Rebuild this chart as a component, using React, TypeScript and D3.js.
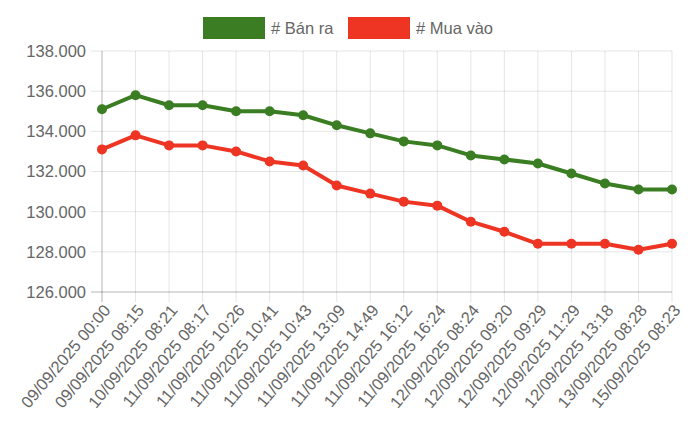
import React from "react";
import * as d3 from "d3";

const labels = [
  "09/09/2025 00:00", "09/09/2025 08:15", "10/09/2025 08:21", "11/09/2025 08:17",
  "11/09/2025 10:26", "11/09/2025 10:41", "11/09/2025 10:43", "11/09/2025 13:09",
  "11/09/2025 14:49", "11/09/2025 16:12", "11/09/2025 16:24", "12/09/2025 08:24",
  "12/09/2025 09:20", "12/09/2025 09:29", "12/09/2025 11:29", "12/09/2025 13:18",
  "13/09/2025 08:28", "15/09/2025 08:23",
];

const banRa = [
  135100, 135800, 135300, 135300, 135000, 135000, 134800, 134300, 133900,
  133500, 133300, 132800, 132600, 132400, 131900, 131400, 131100, 131100,
];

const muaVao = [
  133100, 133800, 133300, 133300, 133000, 132500, 132300, 131300, 130900,
  130500, 130300, 129500, 129000, 128400, 128400, 128400, 128100, 128400,
];

const yTicks = [126000, 128000, 130000, 132000, 134000, 136000, 138000];

const series = [
  { name: "# Bán ra", values: banRa, color: "#3a7d22" },
  { name: "# Mua vào", values: muaVao, color: "#ee3524" },
];

const W = 700;
const H = 431;
const left = 102;
const right = 672;
const top = 51;
const bottom = 292;
const font = "'Liberation Sans', Arial, Helvetica, sans-serif";
const fs = 16.5;

const fmt = d3
  .formatLocale({ decimal: ",", thousands: ".", grouping: [3], currency: ["", ""] })
  .format(",.0f");

export default function App() {
  const x = d3.scalePoint<string>().domain(labels).range([left, right]);
  const y = d3.scaleLinear().domain([126000, 138000]).range([bottom, top]);

  const line = d3
    .line<number>()
    .x((_, i) => x(labels[i]) ?? 0)
    .y((d) => y(d));

  const grid = "rgba(0,0,0,0.1)";

  return (
    <div style={{ position: "fixed", left: 0, top: 0 }}>
      <svg width={W} height={H} style={{ display: "block", fontFamily: font }}>
        <rect width={W} height={H} fill="#fff" />

        {/* horizontal grid + y ticks */}
        {yTicks.map((t) => (
          <g key={t}>
            <line x1={left - 11} x2={right} y1={y(t)} y2={y(t)} stroke={grid} />
            <text x={86} y={y(t)} dy="0.36em" textAnchor="end" fontSize={fs} fill="#666">
              {fmt(t)}
            </text>
          </g>
        ))}

        {/* vertical grid + x ticks */}
        {labels.map((l) => (
          <g key={l}>
            <line x1={x(l)} x2={x(l)} y1={top} y2={bottom + 10} stroke={grid} />
            <text
              transform={`translate(${(x(l) ?? 0) + 5},${bottom + 15}) rotate(-50)`}
              textAnchor="end"
              dy="0.35em"
              fontSize={fs}
              fill="#666"
            >
              {l}
            </text>
          </g>
        ))}

        {/* axis lines */}
        <line x1={left} x2={left} y1={top} y2={bottom + 10} stroke="rgba(0,0,0,0.2)" />
        <line x1={left - 11} x2={right} y1={bottom} y2={bottom} stroke="rgba(0,0,0,0.2)" />

        {series.map((s) => (
          <g key={s.name}>
            <path d={line(s.values) ?? ""} fill="none" stroke={s.color} strokeWidth={4} strokeLinejoin="round" />
            {s.values.map((v, i) => (
              <circle key={i} cx={x(labels[i])} cy={y(v)} r={5} fill={s.color} />
            ))}
          </g>
        ))}

        {/* legend */}
        <g>
          <rect x={203} y={17} width={62} height={22} fill={series[0].color} />
          <text x={271} y={28} dy="0.35em" fontSize={fs} fill="#666">{series[0].name}</text>
          <rect x={348} y={17} width={62} height={22} fill={series[1].color} />
          <text x={416} y={28} dy="0.35em" fontSize={fs} fill="#666">{series[1].name}</text>
        </g>
      </svg>
    </div>
  );
}
